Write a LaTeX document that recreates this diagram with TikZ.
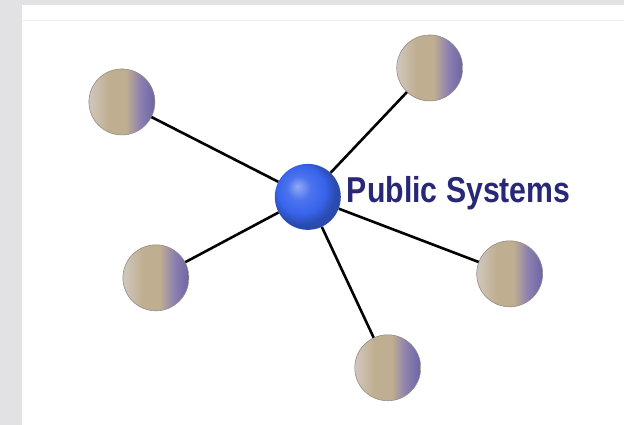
\documentclass[tikz,border=0pt]{standalone}
\usepackage{fontspec}
\newfontfamily\narrowsans[FakeStretch=0.84]{Liberation Sans}
\usepackage{tikz}
\usetikzlibrary{shapes}

\definecolor{navytext}{RGB}{40,40,118}
\definecolor{tanL}{RGB}{208,200,190}
\definecolor{tanM}{RGB}{192,174,144}
\definecolor{purpM}{RGB}{140,128,176}
\definecolor{purpD}{RGB}{108,100,166}
\definecolor{rimgray}{RGB}{146,140,134}
\definecolor{hubblue}{RGB}{56,100,236}
\definecolor{pagegray}{RGB}{226,226,228}
\definecolor{rulegray}{RGB}{238,238,240}

\pgfdeclarehorizontalshading{leafshade}{100bp}{color(0bp)=(tanL); color(25bp)=(tanL); color(40bp)=(tanM); color(53bp)=(tanM); color(64bp)=(purpM); color(75bp)=(purpD); color(100bp)=(purpD)}
\pgfdeclareradialshading{hubshade}{\pgfpoint{-8bp}{8bp}}{color(0bp)=(hubblue!55!white); color(9bp)=(hubblue!90!white); color(18bp)=(hubblue); color(25bp)=(hubblue!75!black); color(50bp)=(hubblue!60!black)}

\tikzset{
  leaf/.style={circle,minimum size=66bp,inner sep=0pt,shading=leafshade,draw=rimgray,line width=0.6bp},
  hub/.style={circle,minimum size=66bp,inner sep=0pt,shading=hubshade},
  spoke/.style={line width=2.6bp,black}
}

\begin{document}
\begin{tikzpicture}

\fill[pagegray] (0bp,0bp) rectangle (624bp,-425bp);
\fill[white] (22bp,-5bp) rectangle (624bp,-425bp);
\draw[rulegray,line width=0.8bp] (22bp,-20bp) -- (624bp,-20bp);

\node (S1) at (122bp,-102bp)[leaf] {};
\node (S2) at (430bp,-68bp)[leaf] {};
\node (S3) at (156bp,-278bp)[leaf] {};
\node (S4) at (510bp,-274bp)[leaf] {};
\node (S5) at (388bp,-368bp)[leaf] {};
\node (PS) at (308bp,-197bp)[hub] {};
\node (PSlabel) at (347bp,-203bp)[anchor=base west,inner sep=0pt,text=navytext,font=\narrowsans\bfseries\fontsize{36bp}{40bp}\selectfont] {Public Systems};
\draw [spoke] (PS) -- (S1);
\draw [spoke] (PS) -- (S2);
\draw [spoke] (PS) -- (S3);
\draw [spoke] (PS) -- (S4);
\draw [spoke] (PS) -- (S5);
\end{tikzpicture}
\end{document}
